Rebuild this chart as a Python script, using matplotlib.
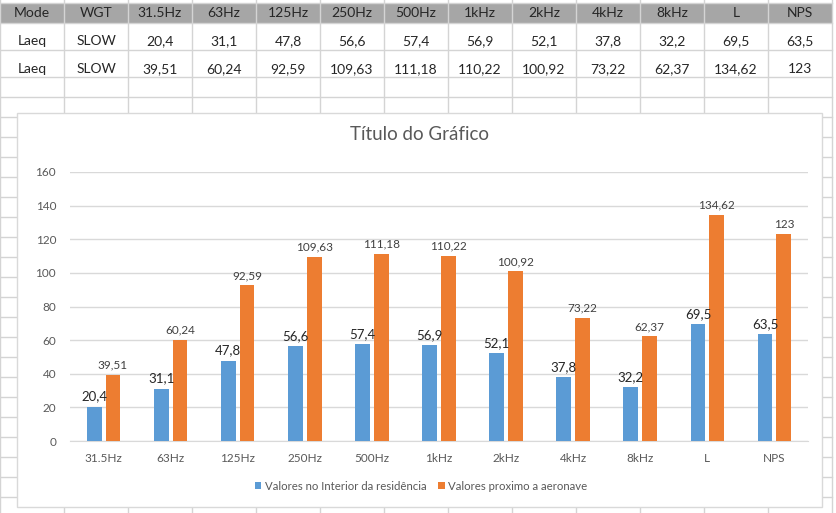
import matplotlib
matplotlib.use('Agg')
import matplotlib.pyplot as plt
from matplotlib.patches import Rectangle

plt.rcParams['font.family'] = ['Lato', 'DejaVu Sans']

categories = ['31.5Hz', '63Hz', '125Hz', '250Hz', '500Hz', '1kHz', '2kHz', '4kHz', '8kHz', 'L', 'NPS']
interior = [20.4, 31.1, 47.8, 56.6, 57.4, 56.9, 52.1, 37.8, 32.2, 69.5, 63.5]
aeronave = [39.51, 60.24, 92.59, 109.63, 111.18, 110.22, 100.92, 73.22, 62.37, 134.62, 123]
interior_txt = ['20,4', '31,1', '47,8', '56,6', '57,4', '56,9', '52,1', '37,8', '32,2', '69,5', '63,5']
aeronave_txt = ['39,51', '60,24', '92,59', '109,63', '111,18', '110,22', '100,92', '73,22', '62,37', '134,62', '123']
header = ['Mode', 'WGT'] + categories
row_mode = ['Laeq', 'Laeq']
row_wgt = ['SLOW', 'SLOW']
serie_names = ['Valores no Interior da residência', 'Valores proximo a aeronave']

BLUE = '#5B9BD5'
ORANGE = '#ED7D31'
GRID = '#D9D9D9'
TXT = '#595959'

W, H = 837, 513
fig = plt.figure(figsize=(W / 100, H / 100), dpi=100)

# spreadsheet background
bg = fig.add_axes([0, 0, 1, 1])
bg.set_xlim(0, W)
bg.set_ylim(H, 0)
bg.axis('off')
bg.add_patch(Rectangle((0, 3), 832, 20, facecolor='#A6A6A6', edgecolor='none'))
rows = [3, 23, 50, 77] + list(range(97, H, 20))
for y in rows:
    bg.plot([0, 832], [y, y], color='#D4D4D4', lw=1)
for k in range(0, 14):
    bg.plot([64 * k, 64 * k], [0, H], color='#D4D4D4', lw=1)

for j, h in enumerate(header):
    bg.text(64 * j + 32, 13, h, ha='center', va='center', fontsize=10, color='#262626')
table_rows = [interior_txt, aeronave_txt]
for r, yy in enumerate([41, 69]):
    cells = [row_mode[r], row_wgt[r]] + table_rows[r]
    for j, c in enumerate(cells):
        bg.text(64 * j + 32, yy, c, ha='center', va='center', fontsize=10, color='#262626')

# chart box
bg.add_patch(Rectangle((17, 113), 805, 394, facecolor='white', edgecolor=GRID, lw=1, zorder=5))
bg.text(420, 134, 'Título do Gráfico', ha='center', va='center', fontsize=13.5, color=TXT, zorder=6)

ax = fig.add_axes([70 / W, 1 - 441 / H, 738 / W, 269 / H], zorder=10)
ax.patch.set_alpha(0)
x = list(range(len(categories)))
w = 0.22
b1 = ax.bar([i - 0.14 for i in x], interior, w, color=BLUE, label=serie_names[0], zorder=3)
b2 = ax.bar([i + 0.14 for i in x], aeronave, w, color=ORANGE, label=serie_names[1], zorder=3)
for rect, t in zip(b1, interior_txt):
    ax.annotate(t, (rect.get_x() + rect.get_width() / 2, rect.get_height()), xytext=(0, 3),
                textcoords='offset points', ha='center', va='bottom', fontsize=9.5, color='#262626')
for rect, t in zip(b2, aeronave_txt):
    ax.annotate(t, (rect.get_x() + rect.get_width() / 2, rect.get_height()), xytext=(0, 3),
                textcoords='offset points', ha='center', va='bottom', fontsize=8.5, color='#404040')

ax.set_xlim(-0.5, len(categories) - 0.5)
ax.set_ylim(0, 160)
ax.set_yticks(range(0, 161, 20))
ax.set_xticks(x)
ax.set_xticklabels(categories)
ax.yaxis.grid(True, color=GRID, lw=1, zorder=0)
for s in ['top', 'right', 'left']:
    ax.spines[s].set_visible(False)
ax.spines['bottom'].set_color(GRID)
ax.tick_params(axis='both', length=0, labelsize=8.5, labelcolor=TXT)
ax.tick_params(axis='y', pad=10)
ax.tick_params(axis='x', pad=9)

leg = fig.legend(handles=[b1, b2], loc='center', bbox_to_anchor=(421 / W, 1 - 486 / H), ncol=2,
                 frameon=False, fontsize=8.2, handlelength=0.6, handleheight=0.6,
                 handletextpad=0.3, columnspacing=1.0)
for t in leg.get_texts():
    t.set_color(TXT)
leg.set_zorder(20)

fig.savefig('out.png', dpi=100)
